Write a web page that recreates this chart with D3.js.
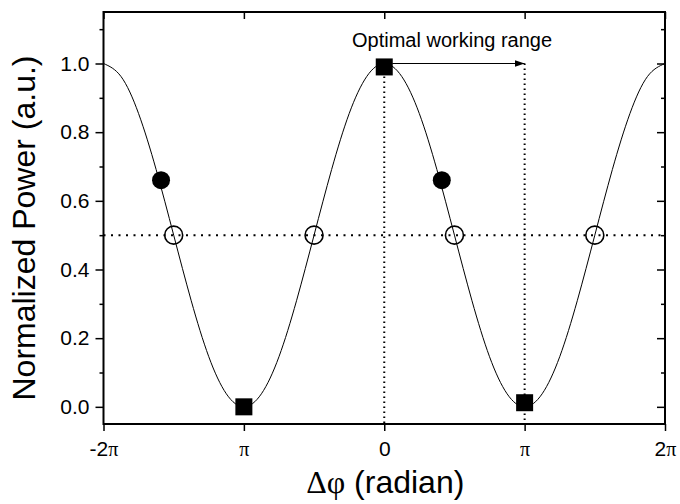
<!DOCTYPE html>
<html>
<head>
<meta charset="utf-8">
<script src="https://cdn.jsdelivr.net/npm/d3@7"></script>
<style>
  body { margin: 0; background: #fff; }
  svg { display: block; }
  text { font-family: "Liberation Sans", Arial, sans-serif; fill: #000; }
  .sym { font-family: "Liberation Serif", "Times New Roman", serif; }
</style>
</head>
<body>
<div id="chart"></div>
<script>
// phase values are in units of pi
var curveX = [-2, -1.875, -1.75, -1.625, -1.5, -1.375, -1.25, -1.125, -1,
              -0.875, -0.75, -0.625, -0.5, -0.375, -0.25, -0.125, 0,
              0.125, 0.25, 0.375, 0.5, 0.625, 0.75, 0.875, 1,
              1.125, 1.25, 1.375, 1.5, 1.625, 1.75, 1.875, 2];
var curveY = [1, 0.962, 0.854, 0.691, 0.5, 0.309, 0.146, 0.038, 0,
              0.038, 0.146, 0.309, 0.5, 0.691, 0.854, 0.962, 1,
              0.962, 0.854, 0.691, 0.5, 0.309, 0.146, 0.038, 0,
              0.038, 0.146, 0.309, 0.5, 0.691, 0.854, 0.962, 1];

var filledX = [-1.59, 0.41];
var filledY = [0.66, 0.66];
var openX = [-1.5, -0.5, 0.5, 1.5];
var openY = [0.5, 0.5, 0.5, 0.5];
var squareX = [-1, 0, 1];
var squareY = [0, 0.99, 0.012];

var xTicks = [-2, -1, 0, 1, 2];
var xTickNum = ["-2", "", "0", "", "2"];
var xTickPi = ["π", "π", "", "π", "π"];
var yTicks = [0, 0.2, 0.4, 0.6, 0.8, 1.0];
var yMinor = [0.1, 0.3, 0.5, 0.7, 0.9, 1.1];

var halfLevel = 0.5;
var rangeFrom = 0, rangeTo = 1, rangeLevel = 1.0;
var rangeText = "Optimal working range";

function init(){
    var w = 680, h = 504;
    var left = 103.5, right = 665, top = 12, bottom = 424;

    var x = d3.scaleLinear().domain([-2, 2]).range([left, right]);
    var y = d3.scaleLinear().domain([-0.05, 1.15]).range([bottom, top]);

    var svg = d3.select("#chart").append("svg")
      .attr("width", w).attr("height", h);

    svg.append("defs").append("marker")
      .attr("id", "arrow")
      .attr("markerUnits", "userSpaceOnUse")
      .attr("markerWidth", 10).attr("markerHeight", 8)
      .attr("refX", 10).attr("refY", 4)
      .attr("orient", "auto")
      .append("path").attr("d", "M0,0.5 L10,4 L0,7.5 Z").attr("fill", "#000");

    // axes
    var styleAxis = function(g){
        g.select(".domain").remove();
        g.selectAll("line").attr("stroke", "#000").attr("stroke-width", 1.5);
    };

    svg.append("g").attr("transform", "translate(" + left + ",0)")
      .call(d3.axisLeft(y).tickValues(yTicks).tickSize(8).tickPadding(6).tickFormat(d3.format(".1f")))
      .call(styleAxis)
      .selectAll("text").attr("font-size", 21).attr("font-family", "Liberation Sans, Arial, sans-serif");
    svg.append("g").attr("transform", "translate(" + left + ",0)")
      .call(d3.axisLeft(y).tickValues(yMinor).tickSize(4).tickFormat(""))
      .call(styleAxis);
    svg.append("g").attr("transform", "translate(" + right + ",0)")
      .call(d3.axisLeft(y).tickValues(yTicks).tickSize(8).tickFormat(""))
      .call(styleAxis);
    svg.append("g").attr("transform", "translate(" + right + ",0)")
      .call(d3.axisLeft(y).tickValues(yMinor).tickSize(4).tickFormat(""))
      .call(styleAxis);
    svg.append("g").attr("transform", "translate(0," + top + ")")
      .call(d3.axisBottom(x).tickValues(xTicks).tickSize(7).tickFormat(""))
      .call(styleAxis);

    var xAxis = svg.append("g").attr("transform", "translate(0," + bottom + ")")
      .call(d3.axisBottom(x).tickValues(xTicks).tickSize(7).tickFormat(""))
      .call(styleAxis);
    xAxis.selectAll(".tick").each(function(d, i){
        var t = d3.select(this).append("text")
          .attr("y", 32).attr("text-anchor", "middle").attr("font-size", 21);
        if (xTickNum[i]) t.append("tspan").text(xTickNum[i]);
        if (xTickPi[i]) t.append("tspan").attr("class", "sym").attr("font-size", 20).text(xTickPi[i]);
    });

    // frame
    svg.append("rect")
      .attr("x", left).attr("y", top)
      .attr("width", right - left).attr("height", bottom - top)
      .attr("fill", "none").attr("stroke", "#000").attr("stroke-width", 2);

    // guide lines
    svg.append("line")
      .attr("x1", left).attr("x2", right)
      .attr("y1", y(halfLevel)).attr("y2", y(halfLevel))
      .attr("stroke", "#000").attr("stroke-width", 2).attr("stroke-dasharray", "2,5.5");
    svg.append("line")
      .attr("x1", x(rangeFrom)).attr("x2", x(rangeFrom))
      .attr("y1", y(rangeLevel) + 8).attr("y2", bottom)
      .attr("stroke", "#000").attr("stroke-width", 2).attr("stroke-dasharray", "1.5,3.5");
    svg.append("line")
      .attr("x1", x(rangeTo)).attr("x2", x(rangeTo))
      .attr("y1", y(rangeLevel)).attr("y2", bottom)
      .attr("stroke", "#000").attr("stroke-width", 2).attr("stroke-dasharray", "1.5,3.5");

    // curve
    var line = d3.line()
      .x(function(d, i){ return x(curveX[i]); })
      .y(function(d){ return y(d); })
      .curve(d3.curveNatural);
    svg.append("path").datum(curveY)
      .attr("d", line)
      .attr("fill", "none").attr("stroke", "#000").attr("stroke-width", 1);

    // arrow
    svg.append("line")
      .attr("x1", x(rangeFrom) + 8).attr("x2", x(rangeTo))
      .attr("y1", y(rangeLevel)).attr("y2", y(rangeLevel))
      .attr("stroke", "#000").attr("stroke-width", 1.2)
      .attr("marker-end", "url(#arrow)");
    svg.append("text")
      .attr("x", 352).attr("y", 47)
      .attr("font-size", 20)
      .text(rangeText);

    // markers
    svg.selectAll(".filled").data(filledY).enter().append("circle")
      .attr("cx", function(d, i){ return x(filledX[i]); })
      .attr("cy", function(d){ return y(d); })
      .attr("r", 9).attr("fill", "#000");
    svg.selectAll(".open").data(openY).enter().append("circle")
      .attr("cx", function(d, i){ return x(openX[i]); })
      .attr("cy", function(d){ return y(d); })
      .attr("r", 9).attr("fill", "none").attr("stroke", "#000").attr("stroke-width", 1.6);
    var sq = 17;
    svg.selectAll(".sq").data(squareY).enter().append("rect")
      .attr("x", function(d, i){ return x(squareX[i]) - sq / 2; })
      .attr("y", function(d){ return y(d) - sq / 2; })
      .attr("width", sq).attr("height", sq).attr("fill", "#000");

    // axis titles
    svg.append("text")
      .attr("transform", "translate(35," + ((top + bottom) / 2 + 10) + ") rotate(-90)")
      .attr("text-anchor", "middle").attr("font-size", 32)
      .text("Normalized Power (a.u.)");
    var xt = svg.append("text")
      .attr("x", (left + right) / 2 + 1).attr("y", 493)
      .attr("text-anchor", "middle").attr("font-size", 32);
    xt.append("tspan").attr("class", "sym").text("Δφ");
    xt.append("tspan").text(" (radian)");
}

window.onload = init;
</script>
</body>
</html>
